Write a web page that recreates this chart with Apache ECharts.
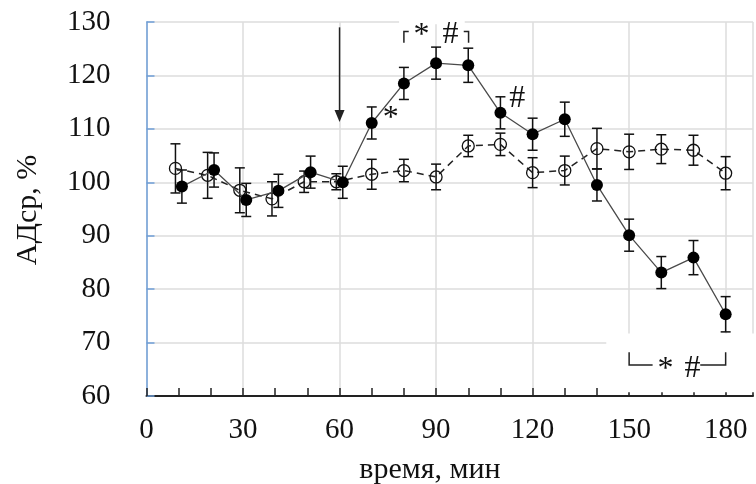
<!DOCTYPE html>
<html>
<head>
<meta charset="utf-8">
<script src="https://cdn.jsdelivr.net/npm/echarts@6/dist/echarts.min.js"></script>
<style>html,body{margin:0;padding:0;background:#fff}#c{width:756px;height:484px}</style>
</head>
<body>
<div id="c"></div>
<script>
// ---- data ----
var timeFilled = [11, 21, 31, 41, 51, 61, 70, 80, 90, 100, 110, 120, 130, 140, 150, 160, 170, 180];
var meanFilled = [99.2, 102.3, 96.7, 98.4, 101.9, 100.0, 111.1, 118.5, 122.3, 121.9, 113.0, 109.0, 111.8, 99.5, 90.1, 83.1, 85.9, 75.3];
var errFilled  = [3.1, 3.2, 3.1, 3.1, 3.0, 3.0, 3.0, 3.0, 3.0, 3.2, 3.0, 3.0, 3.2, 3.0, 3.0, 3.0, 3.2, 3.3];

var timeOpen = [9, 19, 29, 39, 49, 59, 70, 80, 90, 100, 110, 120, 130, 140, 150, 160, 170, 180];
var meanOpen = [102.6, 101.3, 98.5, 96.9, 100.1, 100.1, 101.5, 102.2, 101.0, 106.8, 107.1, 101.8, 102.2, 106.3, 105.7, 106.2, 106.0, 101.7];
var errOpen  = [4.6, 4.3, 4.2, 3.2, 2.0, 1.5, 2.8, 2.1, 2.4, 2.0, 2.1, 2.8, 2.7, 3.8, 3.3, 2.7, 2.8, 3.1];

var xTickLabels = [0, 30, 60, 90, 120, 150, 180];
var yTickLabels = [60, 70, 80, 90, 100, 110, 120, 130];
var xTitle = 'время, мин';
var yTitle = 'АДср, %';

// ---- build ----
var FONT = '"Liberation Serif", "Times New Roman", serif';
function pairs(t, m) { return t.map(function (v, i) { return [v, m[i]]; }); }
function errs(t, m, e) { return t.map(function (v, i) { return [v, m[i] - e[i], m[i] + e[i]]; }); }

function errRender(params, api) {
  var x = api.value(0), lo = api.value(1), hi = api.value(2);
  var a = api.coord([x, hi]), b = api.coord([x, lo]);
  var h = 5;
  var st = { stroke: '#111', lineWidth: 1.5 };
  return { type: 'group', children: [
    { type: 'line', shape: { x1: a[0], y1: a[1], x2: b[0], y2: b[1] }, style: st },
    { type: 'line', shape: { x1: a[0] - h, y1: a[1], x2: a[0] + h, y2: a[1] }, style: st },
    { type: 'line', shape: { x1: b[0] - h, y1: b[1], x2: b[0] + h, y2: b[1] }, style: st }
  ] };
}

var XMAX = 188.5;
var chart = echarts.init(document.getElementById('c'));
var option = {
  animation: false,
  backgroundColor: '#fff',
  grid: { left: 146.5, top: 22, bottom: 88, right: 0, containLabel: false },
  xAxis: [
    { type: 'value', min: 0, max: XMAX, interval: 10, position: 'bottom',
      axisLine: { show: true, onZero: false, lineStyle: { color: '#222', width: 2 } },
      axisTick: { show: true, inside: true, length: 8, lineStyle: { color: '#222', width: 1.5 } },
      axisLabel: { show: false }, splitLine: { show: false } },
    { type: 'value', min: 0, max: XMAX, interval: 30, position: 'bottom',
      axisLine: { show: false }, axisTick: { show: false },
      axisLabel: { show: true, margin: 20, fontFamily: FONT, fontSize: 29, color: '#111',
        formatter: function (v) { return xTickLabels.indexOf(v) >= 0 ? String(v) : ''; } },
      splitLine: { show: true, lineStyle: { color: '#dcdcdc', width: 1.5 } } }
  ],
  yAxis: { type: 'value', min: 60, max: 130, interval: 10,
    axisLine: { show: true, lineStyle: { color: '#6f9fd8', width: 1.5 } },
    axisTick: { show: true, inside: true, length: 8, lineStyle: { color: '#6f9fd8', width: 1.5 } },
    axisLabel: { margin: 36, fontFamily: FONT, fontSize: 29, color: '#111',
      formatter: function (v) { return yTickLabels.indexOf(v) >= 0 ? String(v) : ''; } },
    splitLine: { show: true, lineStyle: { color: '#dcdcdc', width: 1.5 } } },
  series: [
    { type: 'custom', name: 'errOpen', renderItem: errRender, data: errs(timeOpen, meanOpen, errOpen),
      encode: { x: 0, y: [1, 2] }, z: 3 },
    { type: 'custom', name: 'errFilled', renderItem: errRender, data: errs(timeFilled, meanFilled, errFilled),
      encode: { x: 0, y: [1, 2] }, z: 3 },
    { type: 'line', name: 'open', data: pairs(timeOpen, meanOpen), symbol: 'circle', symbolSize: 12,
      lineStyle: { color: '#222', width: 1.5, type: [7, 5] },
      itemStyle: { color: 'rgba(255,255,255,0)', borderColor: '#111', borderWidth: 1.3 }, z: 4 },
    { type: 'line', name: 'filled', data: pairs(timeFilled, meanFilled), symbol: 'circle', symbolSize: 12,
      lineStyle: { color: '#4a4a4a', width: 1.3 },
      itemStyle: { color: '#000', borderColor: '#000', borderWidth: 0 }, z: 5 }
  ]
};
chart.setOption(option);

function P(x, y) { return chart.convertToPixel({ xAxisIndex: 0, yAxisIndex: 0 }, [x, y]); }
var bst = { stroke: '#222', lineWidth: 1.5, fill: null };
function poly(pts) { return { type: 'polyline', z: 20, shape: { points: pts }, style: bst }; }
function txt(p, s, size) { return { type: 'text', z: 20, x: p[0], y: p[1],
  style: { text: s, fontFamily: FONT, fontSize: size, fill: '#111', align: 'center', verticalAlign: 'middle' } }; }

var aTop = P(60, 129), aTip = P(60, 111.3);
var bl1 = P(150, 68.2), bl2 = P(150, 65.8), bl3 = P(157.3, 65.8);
var br1 = P(172.1, 65.8), br2 = P(180, 65.8), br3 = P(180, 68.2);
var tl1 = P(80, 126.1), tl2 = P(80, 128.2), tl3 = P(81.5, 128.2);
var tr1 = P(98.6, 128.2), tr2 = P(100.1, 128.2), tr3 = P(100.1, 126.1);
var boxA = P(142.9, 71.7), boxB = P(192, 60.7);
var gapA = P(78.5, 130.4), gapB = P(98.9, 129.6);

chart.setOption({ graphic: [
  { type: 'rect', z: 1, shape: { x: boxA[0], y: boxA[1], width: boxB[0] - boxA[0], height: boxB[1] - boxA[1] }, style: { fill: '#fff' } },
  { type: 'rect', z: 1, shape: { x: gapA[0], y: gapA[1], width: gapB[0] - gapA[0], height: gapB[1] - gapA[1] }, style: { fill: '#fff' } },
  { type: 'line', z: 20, shape: { x1: aTop[0], y1: aTop[1], x2: aTip[0], y2: aTip[1] - 10 }, style: { stroke: '#222', lineWidth: 1.5 } },
  { type: 'polygon', z: 20, shape: { points: [[aTip[0] - 5, aTip[1] - 12], [aTip[0] + 5, aTip[1] - 12], [aTip[0], aTip[1]]] }, style: { fill: '#222' } },
  poly([bl1, bl2, bl3]), poly([br1, br2, br3]),
  poly([tl1, tl2, tl3]), poly([tr1, tr2, tr3]),
  txt(P(161.3, 65.0), '*', 32), txt(P(169.7, 65.2), '#', 32),
  txt(P(85.5, 127.4), '*', 32), txt(P(94.5, 127.6), '#', 32),
  txt(P(75.9, 112.0), '*', 32), txt(P(115.2, 115.7), '#', 32),
  { type: 'text', z: 20, x: 430, y: 470, style: { text: xTitle, fontFamily: FONT, fontSize: 30, fill: '#111', align: 'center', verticalAlign: 'middle' } },
  { type: 'text', z: 20, x: 28, y: 210, rotation: Math.PI / 2, style: { text: yTitle, fontFamily: FONT, fontSize: 30, fill: '#111', align: 'center', verticalAlign: 'middle' } }
] });
</script>
</body>
</html>
